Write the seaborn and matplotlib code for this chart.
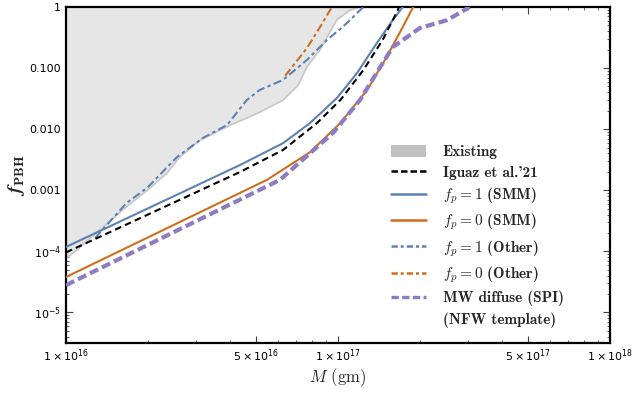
import numpy as np
import pandas as pd
import seaborn as sns
import matplotlib
matplotlib.use("Agg")
import matplotlib.pyplot as plt
from matplotlib.lines import Line2D
from matplotlib.patches import Patch
from matplotlib.ticker import LogLocator, NullFormatter

# ---------------- data ----------------
existing_M = [1.0e16, 1.06e16, 1.33e16, 1.67e16, 1.99e16, 2.35e16, 2.62e16, 3.11e16,
              3.91e16, 5.16e16, 6.28e16, 7.13e16, 7.69e16, 8.59e16, 9.91e16, 1.107e17, 1.205e17]
existing_f = [7.8e-5, 9.3e-5, 2.24e-4, 5.4e-4, 1.0e-3, 1.9e-3, 3.5e-3, 6.6e-3,
              1.1e-2, 1.9e-2, 3.0e-2, 5.2e-2, 0.105, 0.20, 0.62, 0.89, 1.0]

iguaz_M = [1.0e16, 4.37e16, 6.28e16, 8.37e16, 1.02e17, 1.24e17, 1.46e17, 1.66e17, 1.675e17]
iguaz_f = [9.6e-5, 2.0e-3, 4.57e-3, 1.26e-2, 3.0e-2, 9.3e-2, 0.29, 0.89, 1.0]

smm1_M = [1.0e16, 4.37e16, 6.28e16, 7.89e16, 9.91e16, 1.175e17, 1.39e17, 1.59e17, 1.73e17]
smm1_f = [1.18e-4, 2.6e-3, 5.9e-3, 1.26e-2, 3.24e-2, 8.3e-2, 0.258, 0.61, 1.0]

smm0_M = [1.0e16, 5.48e16, 7.89e16, 1.02e17, 1.28e17, 1.51e17, 1.73e17, 1.89e17]
smm0_f = [3.8e-5, 1.48e-3, 4.2e-3, 1.26e-2, 4.4e-2, 0.152, 0.47, 1.0]

other1_M = [1.28e16, 1.67e16, 1.99e16, 2.56e16, 3.19e16, 3.91e16, 4.62e16, 5.16e16,
            6.28e16, 7.69e16, 9.12e16, 1.04e17, 1.24e17]
other1_f = [1.66e-4, 6.2e-4, 1.1e-3, 3.5e-3, 7.2e-3, 1.17e-2, 3.0e-2, 4.4e-2,
            6.4e-2, 0.136, 0.29, 0.47, 1.0]

other0_M = [6.4e16, 7.69e16, 8.59e16, 9.35e16, 9.5e16]
other0_f = [0.075, 0.213, 0.47, 0.89, 1.0]

mw_M = [1.0e16, 6.12e16, 9.59e16, 1.205e17, 1.43e17, 1.59e17, 2.0e17, 2.52e17, 3.05e17]
mw_f = [2.8e-5, 1.48e-3, 8.7e-3, 3.0e-2, 0.104, 0.221, 0.453, 0.61, 1.0]

xtick_vals = [1e16, 5e16, 1e17, 5e17, 1e18]
xtick_labels = [r"$1\times10^{16}$", r"$5\times10^{16}$", r"$1\times10^{17}$",
                r"$5\times10^{17}$", r"$1\times10^{18}$"]
ytick_vals = [1e-5, 1e-4, 1e-3, 1e-2, 1e-1, 1]
ytick_labels = [r"$10^{-5}$", r"$10^{-4}$", "0.001", "0.010", "0.100", "1"]

legend_labels_bold = ["Existing", "Iguaz et al.'21",
                      r"$\boldsymbol{f_p} \mathbf{= 1}$ (SMM)", r"$\boldsymbol{f_p} \mathbf{= 0}$ (SMM)",
                      r"$\boldsymbol{f_p} \mathbf{= 1}$ (Other)", r"$\boldsymbol{f_p} \mathbf{= 0}$ (Other)",
                      "MW diffuse (SPI)", "(NFW template)"]
legend_labels_plain = ["Existing", "Iguaz et al.'21", r"$f_p = 1$ (SMM)", r"$f_p = 0$ (SMM)",
                       r"$f_p = 1$ (Other)", r"$f_p = 0$ (Other)", "MW diffuse (SPI)", "(NFW template)"]
ylabel_bold = r"$\boldsymbol{f}_{\mathbf{PBH}}$"
ylabel_plain = r"$f_{\mathrm{PBH}}$"

# ---------------- style ----------------
sns.set_theme(style="ticks")
plt.rcParams["font.family"] = ["DejaVu Sans"]
plt.rcParams["mathtext.fontset"] = "cm"

BLUE = "#5E81B5"
ORANGE = "#CC6F1E"
PURPLE = "#8E7CC3"
GRAYFILL = "#e6e6e6"
GRAYEDGE = "#c9c9c9"


def build(legend_labels, ylabel):
    fig = plt.figure(figsize=(6.32, 3.93), dpi=100)
    ax = fig.add_axes([0.1044, 0.1272, 0.8608, 0.855])
    ax.set_xscale("log")
    ax.set_yscale("log")

    ax.fill_between(existing_M, existing_f, 1.0, color=GRAYFILL, lw=0, zorder=1)
    sns.lineplot(x=existing_M, y=existing_f, ax=ax, color=GRAYEDGE, lw=1.3, zorder=2)

    dashdot = (0, (4.0, 1.6, 1.6, 1.6))
    sns.lineplot(x=other1_M, y=other1_f, ax=ax, color=BLUE, lw=1.5, linestyle=dashdot, zorder=3)
    sns.lineplot(x=other0_M, y=other0_f, ax=ax, color=ORANGE, lw=1.5, linestyle=dashdot, zorder=3)
    sns.lineplot(x=smm1_M, y=smm1_f, ax=ax, color=BLUE, lw=1.5, zorder=4)
    sns.lineplot(x=smm0_M, y=smm0_f, ax=ax, color=ORANGE, lw=1.5, zorder=4)
    sns.lineplot(x=iguaz_M, y=iguaz_f, ax=ax, color="black", lw=1.5,
                 linestyle=(0, (3.2, 2.0)), zorder=5)
    sns.lineplot(x=mw_M, y=mw_f, ax=ax, color=PURPLE, lw=3.0,
                 linestyle=(0, (2.2, 1.0)), zorder=4)

    ax.set_xlim(1e16, 1e18)
    ax.set_ylim(10 ** -5.5, 1)

    ax.set_xticks(xtick_vals)
    ax.set_xticklabels(xtick_labels)
    ax.set_yticks(ytick_vals)
    ax.set_yticklabels(ytick_labels)
    ax.xaxis.set_minor_locator(LogLocator(base=10, subs=np.arange(2, 10)))
    ax.yaxis.set_minor_locator(LogLocator(base=10, subs=np.arange(2, 10), numticks=20))
    ax.xaxis.set_minor_formatter(NullFormatter())
    ax.yaxis.set_minor_formatter(NullFormatter())
    ax.tick_params(which="both", direction="in", top=True, right=True, colors="#444444",
                   labelcolor="black", labelsize=8)
    ax.tick_params(which="major", length=5, width=0.8)
    ax.tick_params(which="minor", length=2.5, width=0.6)
    ax.tick_params(axis="x", which="major", pad=3)
    for lab in ax.get_xticklabels() + ax.get_yticklabels():
        lab.set_math_fontfamily("dejavusans")

    for sp in ax.spines.values():
        sp.set_linewidth(1.6)
        sp.set_color("black")

    ax.set_xlabel(r"$M$ (gm)", fontsize=12, family="cmr10", labelpad=2)
    ax.set_ylabel(ylabel, fontsize=14, labelpad=2)

    handles = [
        Patch(facecolor="#c0c0c0", edgecolor="none"),
        Line2D([], [], color="black", lw=1.8, linestyle=(0, (2.6, 1.2))),
        Line2D([], [], color=BLUE, lw=1.8),
        Line2D([], [], color=ORANGE, lw=1.8),
        Line2D([], [], color=BLUE, lw=1.8, linestyle=(0, (2.5, 1.2, 1.2, 1.2))),
        Line2D([], [], color=ORANGE, lw=1.8, linestyle=(0, (2.5, 1.2, 1.2, 1.2))),
        Line2D([], [], color=PURPLE, lw=2.4, linestyle=(0, (2.2, 1.0))),
        Line2D([], [], color="none", lw=0),
    ]
    ax.legend(handles, legend_labels, loc="upper left", bbox_to_anchor=(0.597, 0.59),
              frameon=False, prop={"family": "cmb10", "size": 11},
              handlelength=2.3, handleheight=0.9, handletextpad=1.1, labelspacing=0.38,
              borderaxespad=0, borderpad=0)
    return fig


try:
    fig = build(legend_labels_bold, ylabel_bold)
    fig.savefig("out.png", dpi=100)
except Exception:
    plt.close("all")
    fig = build(legend_labels_plain, ylabel_plain)
    fig.savefig("out.png", dpi=100)
